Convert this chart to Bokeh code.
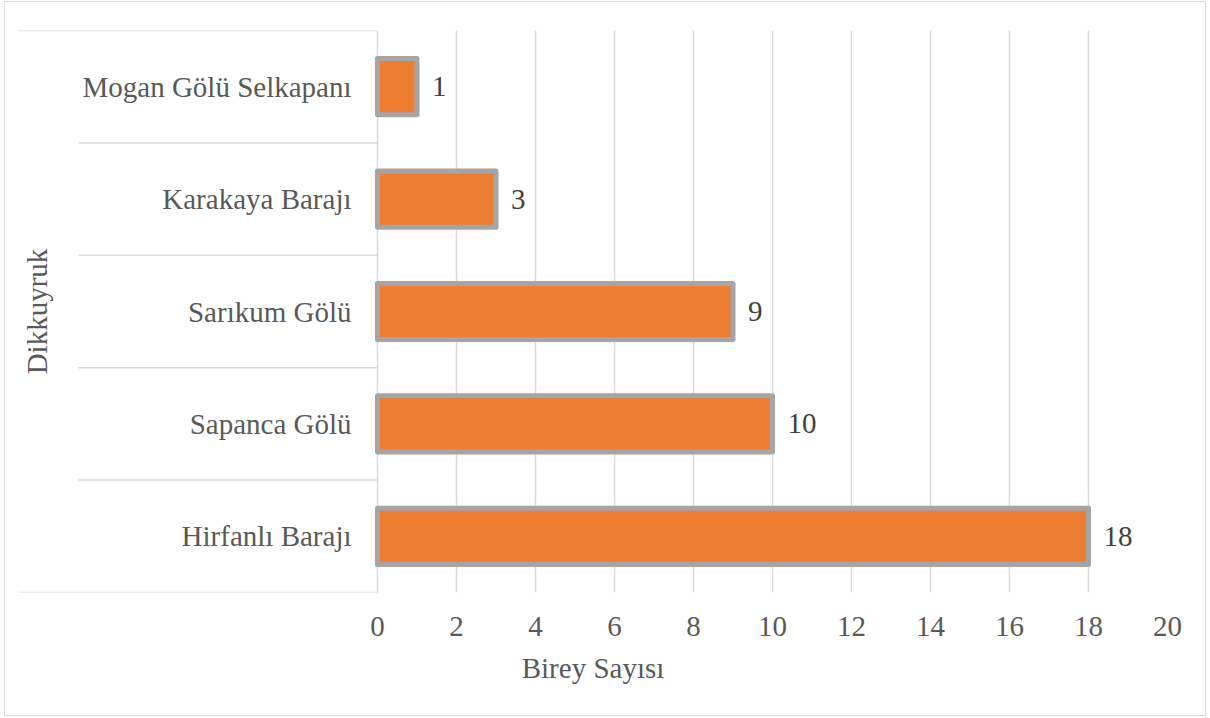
import math
from bokeh.plotting import figure
from bokeh.models import ColumnDataSource, FactorRange, Range1d, FixedTicker
from bokeh.core.properties import value
from bokeh.embed import file_html
from bokeh.resources import INLINE

# ---- data (bottom to top, as drawn) ----
categories = ["Hirfanlı Barajı", "Sapanca Gölü", "Sarıkum Gölü", "Karakaya Barajı", "Mogan Gölü Selkapanı"]
counts = [18, 10, 9, 3, 1]
group_label = "Dikkuyruk"
x_title = "Birey Sayısı"
x_ticks = [0, 2, 4, 6, 8, 10, 12, 14, 16, 18, 20]

# ---- layout (pixels, relative to the figure, which is shifted by (5, 2)) ----
W, H = 1200, 713
frame_left_px, zero_px, twenty_px = 13, 372, 1162
frame_top_px, frame_bottom_px = 28, 590
px_per_unit = (twenty_px - zero_px) / x_ticks[-1]
x_start = -(zero_px - frame_left_px) / px_per_unit
sep_start = x_start + 60 / px_per_unit

FONT = "Liberation Serif"
GRID = "#D9D9D9"
TXT = "#595959"

p = figure(width=W, height=H, output_backend="svg", toolbar_location=None,
           y_range=FactorRange(factors=categories), x_range=Range1d(x_start, x_ticks[-1]),
           y_axis_location=None,
           min_border_left=frame_left_px, min_border_right=W - twenty_px,
           min_border_top=frame_top_px, min_border_bottom=H - frame_bottom_px)
p.outline_line_color = None
p.background_fill_color = "white"
p.border_fill_color = "white"
p.styles = {"position": "relative", "left": "5px", "top": "2px",
            "outline": "1.5px solid #D9D9D9"}

ticker = FixedTicker(ticks=x_ticks)
p.xaxis.ticker = ticker
p.xgrid.ticker = ticker
p.xgrid.grid_line_color = GRID
p.xgrid.grid_line_width = 1.5
p.ygrid.grid_line_color = None
p.xaxis.axis_line_color = None
p.xaxis.major_tick_line_color = None
p.xaxis.minor_tick_line_color = None
p.xaxis.major_label_text_font = FONT
p.xaxis.major_label_text_font_size = "29px"
p.xaxis.major_label_text_color = TXT
p.xaxis.major_label_standoff = 18
p.xaxis.axis_label = x_title
p.xaxis.axis_label_text_font = FONT
p.xaxis.axis_label_text_font_size = "29px"
p.xaxis.axis_label_text_font_style = "normal"
p.xaxis.axis_label_text_color = TXT
p.xaxis.axis_label_standoff = 13

n = len(categories)
# category separators on the left
p.segment(x0=[x_start, x_start], x1=[0, 0], y0=[0, n], y1=[0, n], line_color=GRID, line_width=1.5)
p.segment(x0=[sep_start] * (n - 1), x1=[0] * (n - 1), y0=list(range(1, n)), y1=list(range(1, n)),
          line_color=GRID, line_width=1.5)

src = ColumnDataSource(dict(cat=categories, val=counts, lab=[str(v) for v in counts], zero=[0] * n))
p.hbar(y="cat", left=0, right="val", height=0.5, source=src,
       fill_color="#ED7D31", line_color="#A5A5A5", line_width=5, line_join="round")

p.text(x="zero", y="cat", text="cat", source=src, x_offset=-26,
       text_align="right", text_baseline="middle", text_font=value(FONT),
       text_font_size="29px", text_color=TXT)
p.text(x="val", y="cat", text="lab", source=src, x_offset=15,
       text_align="left", text_baseline="middle", text_font=value(FONT),
       text_font_size="29px", text_color="#404040")
p.text(x=[x_start], y=[n / 2], text=[group_label], x_offset=18, angle=math.pi / 2,
       text_align="center", text_baseline="middle", text_font=value(FONT),
       text_font_size="29px", text_color=TXT)

open("out.html", "w").write(file_html(p, INLINE))
